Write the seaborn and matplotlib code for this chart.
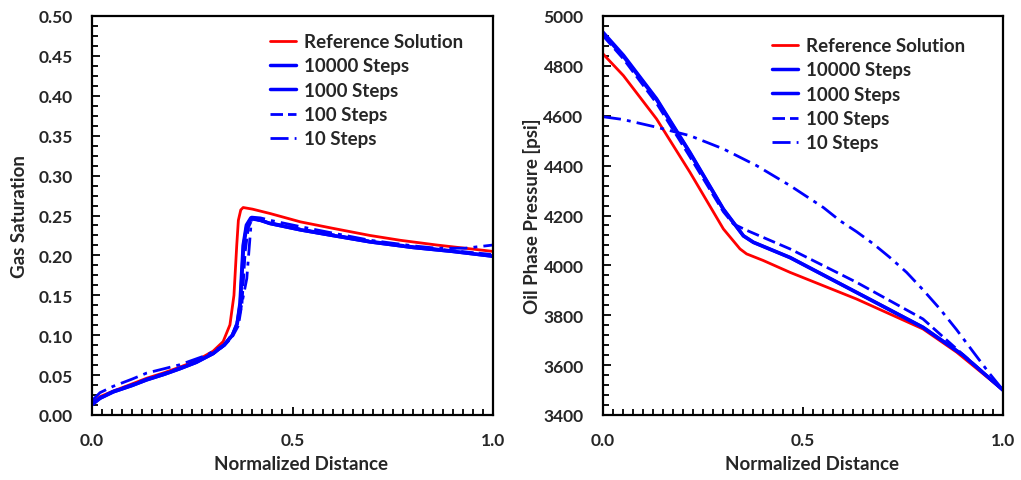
import numpy as np
import pandas as pd
import matplotlib
matplotlib.use("Agg")
import matplotlib.pyplot as plt
import seaborn as sns
from matplotlib.ticker import AutoMinorLocator

# ---------------- data ----------------
series_labels = ["Reference Solution", "10000 Steps", "1000 Steps", "100 Steps", "10 Steps"]

# Gas saturation (left)
sg_ref_x = [0.0, 0.02, 0.053, 0.10, 0.136, 0.18, 0.219, 0.26, 0.302, 0.327, 0.344, 0.354, 0.361, 0.365, 0.371, 0.377, 0.40, 0.444, 0.52, 0.60, 0.693, 0.768, 0.86, 1.0]
sg_ref_y = [0.015, 0.023, 0.030, 0.039, 0.046, 0.053, 0.060, 0.068, 0.080, 0.092, 0.113, 0.150, 0.213, 0.244, 0.257, 0.260, 0.258, 0.2525, 0.242, 0.234, 0.225, 0.219, 0.213, 0.205]

sg_10000_x = [0.0, 0.02, 0.053, 0.10, 0.136, 0.18, 0.219, 0.26, 0.302, 0.33, 0.35, 0.362, 0.369, 0.377, 0.385, 0.396, 0.42, 0.444, 0.52, 0.60, 0.693, 0.80, 0.90, 1.0]
sg_10000_y = [0.013, 0.021, 0.029, 0.037, 0.044, 0.051, 0.058, 0.066, 0.077, 0.088, 0.100, 0.115, 0.140, 0.213, 0.238, 0.247, 0.244, 0.240, 0.232, 0.225, 0.217, 0.210, 0.205, 0.199]

sg_1000_x = [0.0, 0.02, 0.053, 0.10, 0.136, 0.18, 0.219, 0.26, 0.302, 0.33, 0.35, 0.362, 0.370, 0.378, 0.386, 0.397, 0.42, 0.444, 0.52, 0.60, 0.693, 0.80, 0.90, 1.0]
sg_1000_y = [0.013, 0.021, 0.029, 0.037, 0.044, 0.051, 0.058, 0.066, 0.077, 0.088, 0.100, 0.114, 0.140, 0.212, 0.237, 0.246, 0.244, 0.240, 0.232, 0.225, 0.217, 0.210, 0.205, 0.199]

sg_100_x = [0.0, 0.02, 0.053, 0.10, 0.136, 0.18, 0.219, 0.26, 0.302, 0.33, 0.35, 0.365, 0.374, 0.382, 0.390, 0.400, 0.42, 0.444, 0.52, 0.60, 0.693, 0.80, 0.90, 1.0]
sg_100_y = [0.014, 0.022, 0.030, 0.038, 0.045, 0.052, 0.059, 0.067, 0.077, 0.087, 0.098, 0.112, 0.140, 0.205, 0.235, 0.246, 0.244, 0.241, 0.233, 0.226, 0.218, 0.211, 0.206, 0.201]

sg_10_x = [0.0, 0.02, 0.053, 0.10, 0.136, 0.18, 0.219, 0.286, 0.33, 0.355, 0.37, 0.386, 0.398, 0.42, 0.444, 0.52, 0.60, 0.693, 0.80, 0.86, 0.93, 1.0]
sg_10_y = [0.018, 0.028, 0.036, 0.045, 0.0525, 0.058, 0.063, 0.075, 0.088, 0.105, 0.130, 0.171, 0.248, 0.247, 0.244, 0.236, 0.228, 0.219, 0.212, 0.209, 0.209, 0.213]

# Oil phase pressure (right)
po_ref_x = [0.0, 0.051, 0.134, 0.2175, 0.301, 0.3425, 0.359, 0.40, 0.4675, 0.634, 0.80, 0.884, 1.0]
po_ref_y = [4848, 4761, 4587, 4373, 4146, 4066, 4046, 4020, 3972, 3865, 3745, 3652, 3500]

po_10000_x = [0.0, 0.051, 0.134, 0.2175, 0.301, 0.351, 0.376, 0.4675, 0.634, 0.80, 0.90, 1.0]
po_10000_y = [4935, 4843, 4668, 4453, 4226, 4119, 4093, 4032, 3892, 3752, 3640, 3500]

po_1000_x = [0.0, 0.051, 0.134, 0.2175, 0.301, 0.351, 0.376, 0.4675, 0.634, 0.80, 0.90, 1.0]
po_1000_y = [4928, 4838, 4664, 4450, 4224, 4118, 4092, 4031, 3891, 3751, 3640, 3500]

po_100_x = [0.0, 0.051, 0.134, 0.2175, 0.301, 0.326, 0.36, 0.4675, 0.634, 0.80, 0.884, 1.0]
po_100_y = [4921, 4828, 4650, 4435, 4215, 4166, 4140, 4066, 3932, 3785, 3665, 3500]

po_10_x = [0.0, 0.05, 0.134, 0.2175, 0.301, 0.384, 0.4675, 0.551, 0.5925, 0.634, 0.676, 0.717, 0.759, 0.80, 0.8425, 0.884, 0.926, 0.967, 1.0]
po_10_y = [4596, 4585, 4554, 4520, 4467, 4400, 4320, 4232, 4179, 4135, 4086, 4032, 3972, 3902, 3825, 3742, 3652, 3565, 3500]

sat_ticks = [0.00, 0.05, 0.10, 0.15, 0.20, 0.25, 0.30, 0.35, 0.40, 0.45, 0.50]
pres_ticks = [3400, 3600, 3800, 4000, 4200, 4400, 4600, 4800, 5000]
x_ticks = [0.0, 0.5, 1.0]

# ---------------- style ----------------
sns.set_theme(style="white")
plt.rcParams["font.family"] = ["Lato", "DejaVu Sans"]
plt.rcParams["font.weight"] = "bold"

styles = [
    dict(color="#ff0000", lw=2.0, ls="-"),
    dict(color="#0000ff", lw=2.5, ls="-"),
    dict(color="#0000ff", lw=2.5, ls="-"),
    dict(color="#0000ff", lw=2.0, ls=(0, (4.5, 1.8))),
    dict(color="#0000ff", lw=2.0, ls=(0, (6.5, 2.2, 1.4, 2.2))),
]

fig = plt.figure(figsize=(10.21, 4.81), dpi=100)
ax1 = fig.add_axes([92 / 1021, 1 - 416 / 481, 401 / 1021, 399 / 481])
ax2 = fig.add_axes([603 / 1021, 1 - 416 / 481, 400 / 1021, 399 / 481])

left_sets = [(sg_ref_x, sg_ref_y), (sg_10000_x, sg_10000_y), (sg_1000_x, sg_1000_y),
             (sg_100_x, sg_100_y), (sg_10_x, sg_10_y)]
right_sets = [(po_ref_x, po_ref_y), (po_10000_x, po_10000_y), (po_1000_x, po_1000_y),
              (po_100_x, po_100_y), (po_10_x, po_10_y)]

for ax, sets in ((ax1, left_sets), (ax2, right_sets)):
    for lab, (xs, ys), st in zip(series_labels, sets, styles):
        sns.lineplot(x=xs, y=ys, ax=ax, color=st["color"], linewidth=st["lw"],
                     linestyle=st["ls"], label=lab, sort=False, estimator=None)

def style_axis(ax, yticks, ylabel, yfmt, ylabelpad):
    ax.set_xlim(0, 1)
    ax.set_ylim(yticks[0], yticks[-1])
    ax.set_xticks(x_ticks)
    ax.set_xticklabels([f"{v:.1f}" for v in x_ticks], fontsize=12.5, fontweight="bold")
    ax.set_yticks(yticks)
    ax.set_yticklabels([yfmt(v) for v in yticks], fontsize=12.5, fontweight="bold")
    ax.xaxis.set_minor_locator(AutoMinorLocator(20))
    ax.yaxis.set_minor_locator(AutoMinorLocator(5 if yticks[-1] > 100 else 4))
    ax.tick_params(which="both", direction="in", top=False, right=False, left=True, bottom=True,
                   color="black", width=1.3)
    ax.tick_params(which="major", length=6)
    ax.tick_params(which="minor", length=4)
    ax.tick_params(axis="x", which="major", pad=12)
    ax.tick_params(axis="y", which="major", pad=14)
    for sp in ax.spines.values():
        sp.set_visible(True)
        sp.set_color("black")
        sp.set_linewidth(1.6)
    ax.set_xlabel("Normalized Distance", fontsize=13.5, fontweight="bold", labelpad=5, x=0.522)
    ax.set_ylabel(ylabel, fontsize=13.5, fontweight="bold", labelpad=ylabelpad)
    ax.grid(False)

style_axis(ax1, sat_ticks, "Gas Saturation", lambda v: f"{v:.2f}", 7)
style_axis(ax2, pres_ticks, "Oil Phase Pressure [psi]", lambda v: f"{v:d}", 2)

leg_kw = dict(loc="upper left", frameon=False, prop=dict(size=13.5, weight="bold"),
              handlelength=1.4, handletextpad=0.4, labelspacing=0.39,
              borderpad=0.0, borderaxespad=0.0)
ax1.legend(bbox_to_anchor=(0.444, 0.957), **leg_kw)
ax2.legend(bbox_to_anchor=(0.4225, 0.947), **leg_kw)

fig.savefig("out.png", dpi=100)
